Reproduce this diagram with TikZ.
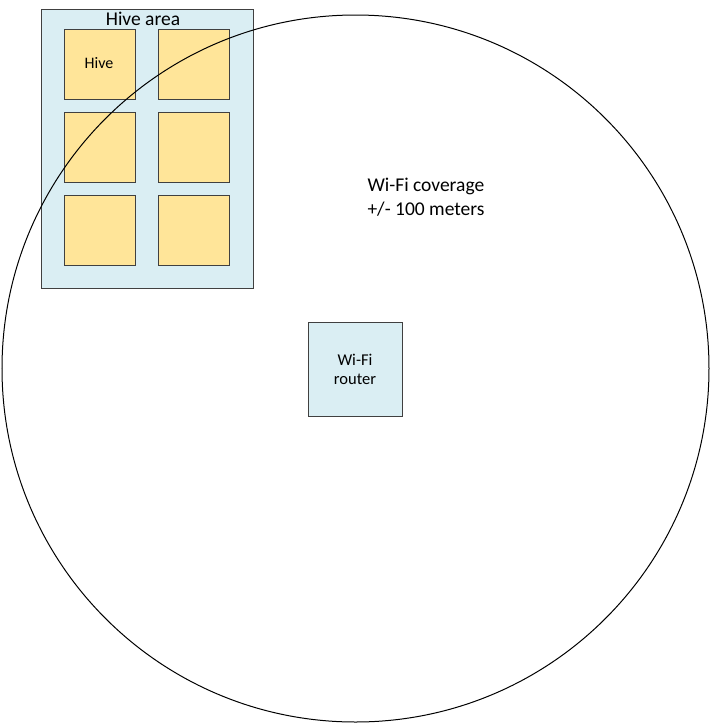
\documentclass[tikz,border=0pt]{standalone}
\usepackage{fontspec}
\setmainfont{Carlito}
\definecolor{areablue}{HTML}{DAEEF3}
\definecolor{hiveyellow}{HTML}{FFE599}
\definecolor{edgegray}{HTML}{404040}
\begin{document}
\begin{tikzpicture}[x=1pt,y=-1pt,
  hivebox/.style={draw=edgegray,fill=hiveyellow,line width=1pt,minimum width=71pt,minimum height=70pt,inner sep=0pt,anchor=north west},
  bluebox/.style={draw=edgegray,fill=areablue,line width=1pt,inner sep=0pt,anchor=north west},
  lbl/.style={inner sep=0pt,align=center}]
\useasboundingbox (0,0) rectangle (710,724);
\fill[white] (0,0) rectangle (710,724);
% hive area
\node[bluebox,minimum width=212pt,minimum height=279pt] (area) at (40.5,8.5) {};
\node[lbl,font=\fontsize{19.5}{23}\selectfont] (arealbl) at (143,18.5) {Hive area};
\node[hivebox] (h1) at (63.5,29) {};
\node[hivebox] (h2) at (158,29) {};
\node[hivebox] (h3) at (63.5,112) {};
\node[hivebox] (h4) at (158,112) {};
\node[hivebox] (h5) at (63.5,195) {};
\node[hivebox] (h6) at (158,195) {};
\node[lbl,font=\fontsize{16}{18}\selectfont] (hivelbl) at (99,63) {Hive};
% router
\node[bluebox,minimum width=94pt,minimum height=94pt] (router) at (307.5,322) {};
\node[lbl,font=\fontsize{16.5}{19}\selectfont] (routerlbl) at (router.center) {Wi-Fi\\router};
% coverage circle
\node[draw=black,line width=1pt,circle,minimum size=707pt,inner sep=0pt] (cov) at (355.5,368.5) {};
\node[lbl,font=\fontsize{19.5}{24}\selectfont,align=left] (covlbl) at (426,197) {Wi-Fi coverage\\+/- 100 meters};
\end{tikzpicture}
\end{document}
